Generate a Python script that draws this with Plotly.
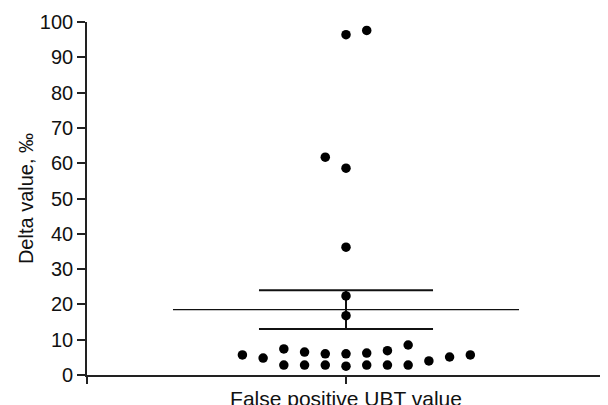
import numpy as np
import plotly.graph_objects as go

# jitter column of each point (scatter-dot layout) and its delta value (‰)
col_offsets = [-5, -4, -3, -3, -2, -2, -1, -1, -1,
               0, 0, 0, 0, 0, 0, 0,
               1, 1, 1, 2, 2, 3, 3, 4, 5, 6]
delta_values = [5.7, 4.8, 7.4, 2.8, 6.5, 2.8, 6.0, 2.8, 61.7,
                6.0, 2.5, 16.8, 22.4, 36.2, 58.6, 96.4,
                6.2, 2.8, 97.6, 6.9, 2.8, 8.5, 2.8, 4.0, 5.1, 5.7]
category = "False positive UBT value"
y_ticks = list(range(0, 101, 10))

vals = np.array(delta_values)
mean_val = vals.mean()
sem_val = vals.std(ddof=1) / np.sqrt(len(vals))

MEAN_HALF = 8.35
SEM_HALF = 4.2
X_HALF = 12.5

fig = go.Figure()

# mean line
fig.add_trace(go.Scatter(x=[-MEAN_HALF, MEAN_HALF], y=[mean_val, mean_val], mode="lines",
                         line=dict(color="#111", width=1.4), showlegend=False, hoverinfo="skip"))
# SEM lines
for yv in (mean_val + sem_val, mean_val - sem_val):
    fig.add_trace(go.Scatter(x=[-SEM_HALF, SEM_HALF], y=[yv, yv], mode="lines",
                             line=dict(color="#111", width=2), showlegend=False, hoverinfo="skip"))
fig.add_trace(go.Scatter(x=[0, 0], y=[mean_val - sem_val, mean_val + sem_val], mode="lines",
                         line=dict(color="#111", width=2), showlegend=False, hoverinfo="skip"))

# dots
fig.add_trace(go.Scatter(x=col_offsets, y=delta_values, mode="markers",
                         marker=dict(color="black", size=9.5, line=dict(width=0)),
                         showlegend=False, cliponaxis=False))

# page body has an 8px margin, so the figure is offset by (8, 8)
fig.update_layout(
    width=600, height=397,
    margin=dict(l=79, r=3, t=14, b=30, autoexpand=False),
    paper_bgcolor="white", plot_bgcolor="white",
    font=dict(family="Liberation Sans, Arial, sans-serif", color="#111"),
)
fig.update_xaxes(
    range=[-X_HALF, X_HALF], showgrid=False, zeroline=False, automargin=False,
    showline=True, linecolor="#222", linewidth=1.6,
    tickmode="array", tickvals=[-X_HALF, 0, X_HALF], ticktext=["", category, ""],
    ticks="outside", ticklen=7, tickwidth=1.6, tickcolor="#222",
    tickfont=dict(size=21, color="#111"), ticklabelstandoff=-3,
)
fig.update_yaxes(
    range=[0, 100], showgrid=False, zeroline=False, automargin=False,
    showline=True, linecolor="#222", linewidth=1.6,
    tickmode="array", tickvals=y_ticks,
    ticks="outside", ticklen=8, tickwidth=1.6, tickcolor="#222",
    tickfont=dict(size=20, color="#111"),
    title=dict(text="Delta value, ‰", font=dict(size=20, color="#111"), standoff=1),
)

fig.write_html("out.html")
